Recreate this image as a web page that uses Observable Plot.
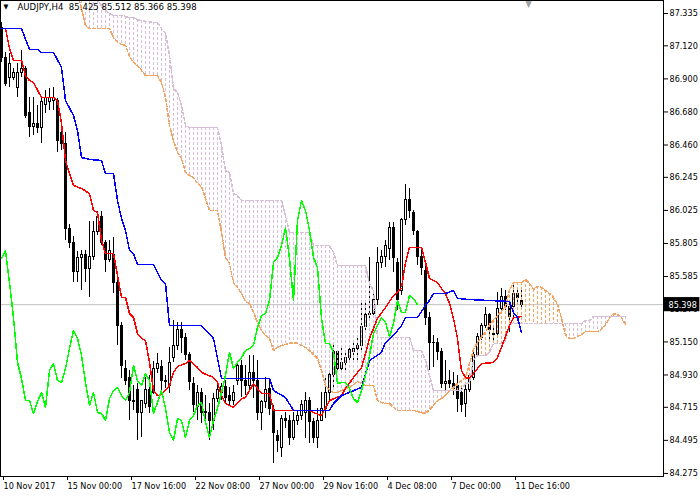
<!DOCTYPE html>
<html><head><meta charset="utf-8">
<script src="https://cdn.jsdelivr.net/npm/d3@7"></script>
<script src="https://cdn.jsdelivr.net/npm/@observablehq/plot@0.6"></script>
<style>body{margin:0;background:#fff}</style>
</head><body><div id="chart"></div>
<script>
const symbol = "AUDJPY";
const timeframe = "H4";
const dateLabels = ["10 Nov 2017","15 Nov 00:00","17 Nov 16:00","22 Nov 08:00","27 Nov 00:00","29 Nov 16:00","4 Dec 08:00","7 Dec 00:00","11 Dec 16:00"];
const dateTickBars = [0,16,32,48,64,80,96,112,128];
const priceTicks = [87.335,87.120,86.900,86.680,86.460,86.245,86.025,85.805,85.585,85.370,85.150,84.930,84.715,84.495,84.275];

const open = [
87.241,87.036,86.903,86.909,86.842,86.942,86.969,86.670,86.577,86.603,
86.570,86.723,86.743,86.756,86.756,86.543,86.470,85.904,85.811,85.612,
85.705,85.725,85.638,85.712,85.878,85.978,85.811,85.698,85.725,85.545,
85.259,84.973,84.907,84.747,84.827,84.674,84.740,84.827,84.813,84.973,
84.980,84.893,84.860,85.046,85.126,85.226,85.173,85.060,84.873,84.714,
84.813,84.680,84.674,84.627,84.773,84.813,84.847,84.793,84.760,84.893,
84.993,84.893,84.860,84.940,84.893,84.674,84.747,84.840,84.694,84.527,
84.441,84.640,84.627,84.514,84.627,84.660,84.680,84.760,84.614,84.514,
84.627,84.707,84.813,84.927,85.080,84.973,85.013,85.046,85.080,85.106,
85.126,85.246,85.326,85.339,85.426,85.678,85.712,85.771,85.911,85.678,
85.492,85.958,86.091,86.011,85.878,85.712,85.625,85.306,85.140,85.146,
85.080,84.873,84.887,84.873,84.860,84.807,84.740,84.833,84.907,85.066,
85.179,85.259,85.326,85.193,85.206,85.372,85.446,85.379,85.379,85.472,
85.425];
const high = [
87.275,87.076,87.069,86.969,87.002,87.089,86.982,86.776,86.776,86.723,
86.776,86.823,86.836,86.842,86.769,86.590,86.543,85.931,85.851,85.751,
85.758,85.758,85.951,85.951,86.017,86.017,85.825,85.825,85.845,85.559,
85.279,85.026,84.960,84.860,84.873,84.760,84.913,84.927,85.020,85.073,
85.026,84.927,85.113,85.292,85.279,85.279,85.206,85.080,84.913,84.860,
84.840,84.793,84.740,84.807,84.860,84.873,84.893,84.847,84.860,85.013,
85.026,84.993,85.060,85.060,85.026,84.760,84.913,84.893,84.727,84.561,
84.660,84.680,84.660,84.680,84.694,84.760,84.813,84.780,84.640,84.707,
84.813,84.907,84.960,85.126,85.093,85.126,85.093,85.126,85.159,85.173,
85.406,85.426,85.712,85.492,85.778,85.758,85.825,85.944,85.944,85.705,
85.971,86.197,86.170,86.024,85.891,85.771,85.658,85.346,85.193,85.173,
85.106,85.026,84.960,84.947,84.927,84.847,84.860,84.927,85.080,85.206,
85.273,85.379,85.339,85.239,85.479,85.505,85.492,85.406,85.539,85.512,
85.512];
const low = [
87.009,86.849,86.842,86.889,86.776,86.909,86.636,86.510,86.523,86.537,
86.470,86.670,86.690,86.690,86.410,86.424,85.825,85.771,85.545,85.545,
85.492,85.545,85.446,85.692,85.858,85.791,85.612,85.678,85.472,85.126,
84.907,84.860,84.627,84.694,84.494,84.514,84.707,84.674,84.800,84.940,
84.807,84.840,84.807,85.013,85.093,85.073,85.026,84.827,84.680,84.627,
84.607,84.627,84.494,84.561,84.747,84.760,84.747,84.727,84.727,84.860,
84.780,84.793,84.827,84.773,84.627,84.561,84.707,84.660,84.341,84.414,
84.381,84.574,84.461,84.494,84.594,84.627,84.507,84.474,84.474,84.441,
84.620,84.640,84.760,84.840,84.947,84.947,84.960,85.026,85.013,85.026,
85.093,85.213,85.292,85.306,85.392,85.638,85.645,85.692,85.612,85.359,
85.459,85.924,85.971,85.858,85.658,85.592,85.259,84.960,84.980,85.026,
84.840,84.813,84.840,84.793,84.680,84.680,84.647,84.813,84.893,85.046,
85.159,85.239,85.159,85.159,85.193,85.359,85.359,85.213,85.313,85.392,
85.366];
const close = [
87.036,86.869,87.002,86.936,86.942,86.969,86.656,86.577,86.603,86.570,
86.743,86.776,86.776,86.776,86.490,86.470,85.904,85.811,85.612,85.705,
85.725,85.638,85.718,85.884,85.978,85.811,85.692,85.758,85.545,85.259,
84.993,84.893,84.760,84.760,84.674,84.754,84.827,84.714,84.973,85.006,
84.893,84.880,85.013,85.126,85.226,85.173,85.060,84.880,84.727,84.813,
84.680,84.687,84.627,84.773,84.827,84.847,84.780,84.760,84.813,84.993,
84.893,84.860,84.940,84.893,84.674,84.747,84.827,84.707,84.547,84.494,
84.640,84.627,84.514,84.627,84.660,84.727,84.760,84.614,84.514,84.627,
84.707,84.813,84.927,85.080,84.973,85.013,85.046,85.093,85.106,85.126,
85.246,85.326,85.339,85.426,85.678,85.712,85.791,85.911,85.705,85.426,
85.958,86.091,86.024,85.891,85.712,85.645,85.306,85.140,85.146,85.080,
84.873,84.880,84.873,84.840,84.773,84.727,84.833,84.920,85.066,85.186,
85.259,85.326,85.226,85.206,85.372,85.446,85.379,85.313,85.472,85.439,
85.398];

// Chikou Span (green), one value per bar from the left edge
const chikou = [
85.705,85.758,85.545,85.312,85.013,84.907,84.760,84.760,84.674,84.754,
84.813,84.714,84.960,85.006,84.893,84.880,84.973,85.106,85.226,85.173,
85.060,84.880,84.727,84.813,84.680,84.674,84.627,84.773,84.827,84.847,
84.793,84.760,84.813,84.993,84.893,84.860,84.940,84.893,84.674,84.747,
84.827,84.707,84.547,84.494,84.640,84.627,84.514,84.627,84.660,84.727,
84.747,84.614,84.514,84.627,84.707,84.813,84.927,85.080,84.973,85.013,
85.046,85.093,85.106,85.126,85.246,85.326,85.339,85.426,85.678,85.712,
85.791,85.911,85.705,85.426,85.958,86.091,86.024,85.891,85.712,85.645,
85.306,85.140,85.140,85.080,84.873,84.880,84.880,84.840,84.773,84.747,
84.827,84.927,85.060,85.206,85.259,85.312,85.279,85.186,85.272,85.426,
85.346,85.346,85.459,85.439,85.398];

// Tenkan-sen (red) and Kijun-sen (blue): [bar, price] vertices
const tenkan = [[0,87.235],[1,87.235],[2,87.102],[3,87.022],[5,87.022],[6,86.922],[7,86.889],[8,86.876],[10,86.776],[13,86.776],
[14,86.756],[15,86.603],[16,86.357],[17,86.270],[18,86.191],[20,86.171],[22,86.137],[23,86.024],[24,86.011],[25,85.825],
[26,85.738],[28,85.738],[29,85.592],[30,85.446],[31,85.446],[32,85.339],[33,85.312],[34,85.206],[35,85.173],[36,85.159],
[37,85.013],[38,84.827],[39,84.793],[40,84.800],[42,84.860],[43,84.947],[44,84.987],[46,85.006],[47,85.026],[49,84.980],
[50,84.947],[53,84.913],[54,84.880],[55,84.793],[56,84.740],[58,84.714],[60,84.773],[61,84.780],[63,84.873],[65,84.807],
[67,84.807],[68,84.694],[77,84.694],[78,84.680],[80,84.660],[82,84.760],[85,84.793],[86,84.840],[88,84.913],[90,84.980],
[91,85.073],[92,85.173],[93,85.239],[94,85.306],[96,85.379],[98,85.459],[99,85.479],[100,85.512],[101,85.678],[102,85.778],
[105,85.778],[106,85.678],[107,85.572],[109,85.545],[110,85.505],[111,85.472],[112,85.406],[113,85.306],[114,85.173],[115,84.960],
[116,84.913],[117,84.907],[118,84.940],[120,85.006],[123,85.013],[124,85.046],[125,85.113],[126,85.186],[127,85.259],[128,85.312],
[130,85.319]];
const kijun = [[0,87.235],[5,87.235],[7,87.095],[9,87.095],[10,87.076],[13,87.076],[15,86.976],[16,86.756],[18,86.656],[19,86.557],
[20,86.377],[22,86.364],[25,86.357],[26,86.270],[28,86.270],[29,86.091],[30,85.971],[31,85.891],[32,85.758],[33,85.738],
[34,85.665],[38,85.665],[40,85.559],[41,85.539],[42,85.259],[50,85.259],[53,85.173],[55,84.907],[67,84.907],[68,84.827],
[71,84.780],[73,84.694],[82,84.694],[83,84.740],[85,84.793],[90,84.847],[92,85.026],[95,85.080],[96,85.146],[98,85.193],
[100,85.259],[101,85.312],[104,85.312],[106,85.392],[107,85.426],[108,85.472],[111,85.472],[113,85.492],[114,85.439],[117,85.432],
[127,85.419],[128,85.346],[129,85.312],[130,85.213]];

// Senkou Span A (sandy brown) and B (thistle), one value per bar incl. 26 bars ahead
const senkouA = [
87.82,87.80,87.78,87.76,87.75,87.73,87.70,87.68,87.66,87.65,
87.63,87.62,87.60,87.58,87.56,87.55,87.53,87.52,87.50,87.47,
87.368,87.255,87.235,87.235,87.235,87.235,87.235,87.235,87.175,87.142,
87.129,87.122,87.049,87.009,86.989,86.956,86.922,86.922,86.922,86.922,
86.876,86.776,86.590,86.490,86.410,86.370,86.277,86.257,86.244,86.204,
86.184,86.104,86.024,86.024,86.024,85.878,85.712,85.672,85.545,85.512,
85.472,85.419,85.406,85.346,85.279,85.226,85.193,85.173,85.093,85.113,
85.126,85.133,85.140,85.146,85.140,85.126,85.113,85.093,85.066,85.040,
84.960,84.860,84.827,84.813,84.813,84.827,84.840,84.847,84.867,84.887,
84.873,84.860,84.860,84.860,84.760,84.747,84.740,84.740,84.714,84.694,
84.694,84.694,84.694,84.694,84.687,84.680,84.674,84.700,84.727,84.760,
84.773,84.793,84.827,84.847,84.873,84.893,84.913,85.006,85.100,85.146,
85.186,85.213,85.266,85.292,85.326,85.352,85.386,85.492,85.545,85.545,
85.545,85.565,85.539,85.499,85.519,85.512,85.492,85.472,85.446,85.399,
85.306,85.199,85.173,85.173,85.186,85.199,85.219,85.219,85.219,85.219,
85.233,85.266,85.306,85.339,85.332,85.312,85.266];
const senkouB = [
87.95,87.93,87.92,87.90,87.88,87.86,87.84,87.82,87.80,87.78,
87.76,87.74,87.72,87.70,87.68,87.66,87.64,87.62,87.60,87.55,
87.488,87.475,87.455,87.441,87.420,87.388,87.355,87.335,87.322,87.322,
87.322,87.315,87.308,87.308,87.295,87.288,87.282,87.282,87.275,87.275,
87.235,87.202,87.056,86.836,86.809,86.723,86.590,86.577,86.577,86.577,
86.577,86.577,86.577,86.577,86.577,86.457,86.290,86.277,86.137,86.124,
86.091,86.091,86.091,86.091,86.091,86.091,86.091,86.091,86.091,86.091,
86.091,85.991,85.878,85.878,85.878,85.878,85.878,85.878,85.791,85.791,
85.791,85.791,85.791,85.745,85.658,85.658,85.658,85.658,85.658,85.658,
85.658,85.658,85.539,85.492,85.180,85.180,85.180,85.180,85.180,85.180,
85.180,85.180,85.180,85.093,85.093,85.093,85.026,84.927,84.827,84.827,
84.827,84.827,84.827,84.827,84.827,84.827,84.873,84.880,85.026,85.060,
85.060,85.060,85.080,85.140,85.140,85.140,85.153,85.272,85.272,85.272,
85.272,85.272,85.272,85.272,85.272,85.272,85.272,85.272,85.272,85.272,
85.272,85.272,85.272,85.272,85.272,85.272,85.292,85.292,85.319,85.319,
85.319,85.319,85.319,85.319,85.319,85.319,85.319];

const bars = open.map((o, i) => ({i, o, h: high[i], l: low[i], c: close[i]}));
const kumo = senkouA.map((a, k) => ({k, a, b: senkouB[k]}));
const chik = chikou.map((v, j) => ({j, v}));
const last = bars[bars.length - 1];
const f3 = d3.format(".3f");
const title = `${symbol},${timeframe}\u00a0\u00a0${f3(last.o)} ${f3(last.h)} ${f3(last.l)} ${f3(last.c)}`;
const crisp = {clip: true, shapeRendering: "crispEdges"};

const chart = Plot.plot({
  width: 700, height: 500,
  marginLeft: 0, marginRight: 37, marginTop: 0, marginBottom: 24,
  x: {domain: [-0.25, 165.5]},
  y: {domain: [84.2546, 87.4215]},
  style: {fontFamily: "'DejaVu Sans Condensed', 'DejaVu Sans', sans-serif", fontSize: "9px", color: "black", background: "white"},
  marks: [
    Plot.ruleY([last.c], {stroke: "#c0c0c0"}),
    Plot.ruleX(bars, {x: "i", y1: "l", y2: "h", stroke: "black", ...crisp}),
    Plot.rect(bars.filter(d => d.c >= d.o), {x1: d => d.i - 0.25, x2: d => d.i + 0.25, y1: "o", y2: "c",
      fill: "white", stroke: "black", ...crisp}),
    Plot.rect(bars.filter(d => d.c < d.o), {x1: d => d.i - 0.25, x2: d => d.i + 0.25, y1: "o", y2: "c",
      fill: "black", stroke: "black", ...crisp}),
    Plot.ruleX(kumo.filter(d => d.a >= d.b), {x: "k", y1: "a", y2: "b",
      stroke: "#f4a460", strokeDasharray: "3,2", ...crisp}),
    Plot.ruleX(kumo.filter(d => d.a < d.b), {x: "k", y1: "b", y2: "a",
      stroke: "#d8bfd8", strokeDasharray: "3,2", ...crisp}),
    Plot.line(kumo, {x: "k", y: "a", stroke: "#f4a460", strokeDasharray: "3,2", ...crisp}),
    Plot.line(kumo, {x: "k", y: "b", stroke: "#d8bfd8", strokeDasharray: "3,2", ...crisp}),
    Plot.line(tenkan, {x: d => d[0], y: d => d[1], stroke: "#ff0000", ...crisp}),
    Plot.line(kijun, {x: d => d[0], y: d => d[1], stroke: "#0000ff", ...crisp}),
    Plot.line(chik, {x: "j", y: "v", stroke: "#00ff00", ...crisp}),
    Plot.frame({stroke: "black"}),
    Plot.axisY({anchor: "right", ticks: priceTicks, tickFormat: d => f3(d), tickSize: 4, tickPadding: 2, label: null}),
    Plot.axisX({ticks: dateTickBars, tickFormat: d => dateLabels[dateTickBars.indexOf(d)], tickSize: 4, tickPadding: 2,
      textAnchor: "start", dx: 2, label: null}),
    Plot.rect([last], {x1: () => 165.75, x2: () => 174.6, y1: d => d.c + 0.047, y2: d => d.c - 0.047, fill: "black"}),
    Plot.text([last], {x: () => 166.75, y: "c", text: d => f3(d.c), fill: "white", textAnchor: "start"}),
    Plot.text(["\u25BC"], {frameAnchor: "top-left", dx: 3, dy: 4, lineAnchor: "top", textAnchor: "start", fontSize: 7}),
    Plot.text([title], {frameAnchor: "top-left", dx: 17, dy: 3, lineAnchor: "top", textAnchor: "start", fontSize: 9.5}),
    Plot.text(["\u25BC"], {x: () => last.i + 1.75, frameAnchor: "top", lineAnchor: "top", dy: 0, fill: "#a0a0a0", fontSize: 9})
  ]
});
document.getElementById("chart").appendChild(chart);
</script>
</body></html>
